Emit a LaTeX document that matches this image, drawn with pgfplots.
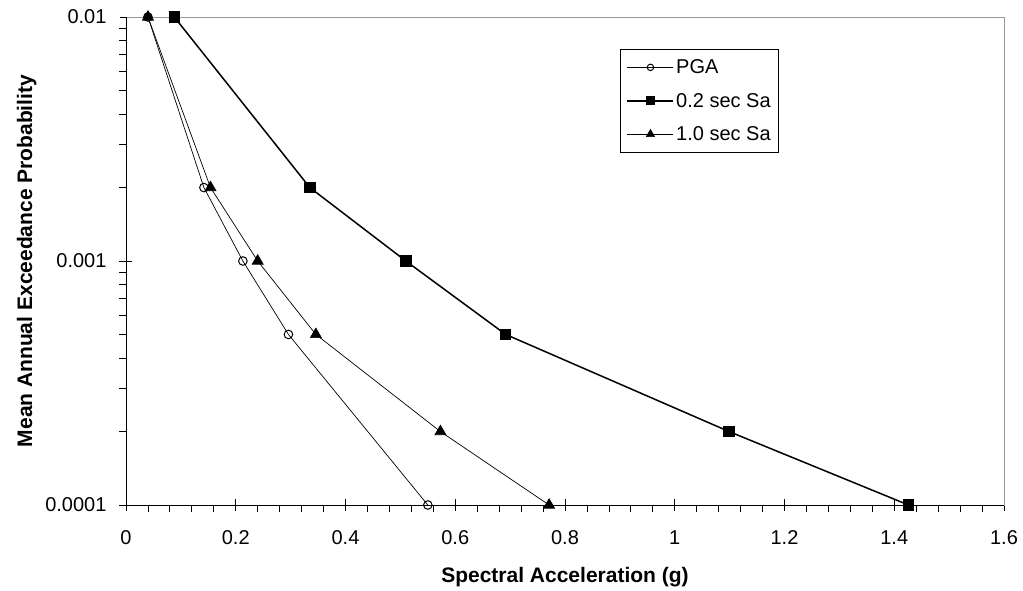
\documentclass[border=0pt]{standalone}
\usepackage{fontspec}
\setmainfont{Liberation Sans}
\usepackage{pgfplots}
\pgfplotsset{compat=1.18}

\begin{document}
\begin{tikzpicture}
\begin{axis}[
  at={(0,0)}, anchor=south west,
  scale only axis,
  width=878pt, height=488pt,
  xmin=0, xmax=1.6,
  ymode=log, ymin=0.0001, ymax=0.01,
  xtick={0,0.2,0.4,0.6,0.8,1,1.2,1.4,1.6},
  xticklabels={0,0.2,0.4,0.6,0.8,1,1.2,1.4,1.6},
  minor x tick num=4,
  ytick={0.0001,0.001,0.01},
  yticklabels={0.0001,0.001,0.01},
  /pgf/number format/assume math mode=true,
  tick label style={font=\fontsize{20}{24}\selectfont},
  xticklabel style={yshift=-10pt},
  yticklabel style={xshift=-4pt},
  tick align=outside,
  major tick length=12pt,
  minor tick length=7pt,
  major x tick style={yshift=6pt},
  major y tick style={xshift=6pt},
  tick style={black, line width=0.8pt},
  xtick pos=bottom, ytick pos=left,
  axis line style={gray!80, line width=0.9pt},
  xlabel={\textbf{Spectral Acceleration (g)}},
  ylabel={\textbf{Mean Annual Exceedance Probability}},
  label style={font=\fontsize{21}{25}\selectfont},
  xlabel style={yshift=-16pt},
  ylabel style={yshift=2pt},
  legend cell align=left,
  legend style={at={(0.563,0.934)}, anchor=north west,
    draw=black, line width=0.8pt, font=\fontsize{20}{24}\selectfont,
    inner xsep=6pt, inner ysep=8pt, row sep=14pt},
  legend image code/.code={%
    \draw[#1, every mark/.append style={scale=0.75}, mark repeat=2, mark phase=2]
      plot coordinates {(0pt,0pt) (23pt,0pt) (46pt,0pt)};},
  clip=false,
]
\addplot[black, line width=0.7pt, mark=o, mark size=4.3pt,
  mark options={line width=1pt, fill=white}]
  coordinates {(0.04,0.01) (0.142,0.002) (0.213,0.001) (0.296,0.0005) (0.55,0.0001)};
\addplot[black, line width=1.5pt, mark=square*, mark size=5pt]
  coordinates {(0.088,0.01) (0.335,0.002) (0.51,0.001) (0.692,0.0005) (1.099,0.0002) (1.426,0.0001)};
\addplot[black, line width=0.7pt, mark=triangle*, mark size=6.3pt]
  coordinates {(0.04,0.01) (0.154,0.002) (0.24,0.001) (0.346,0.0005) (0.573,0.0002) (0.771,0.0001)};
\legend{PGA, 0.2 sec Sa, 1.0 sec Sa}
\draw[black, line width=0.9pt] (rel axis cs:0,1) -- (rel axis cs:0,0) -- (rel axis cs:1,0);
\end{axis}
\path (-126pt,-85pt) rectangle (897pt,505pt);
\end{tikzpicture}
\end{document}
